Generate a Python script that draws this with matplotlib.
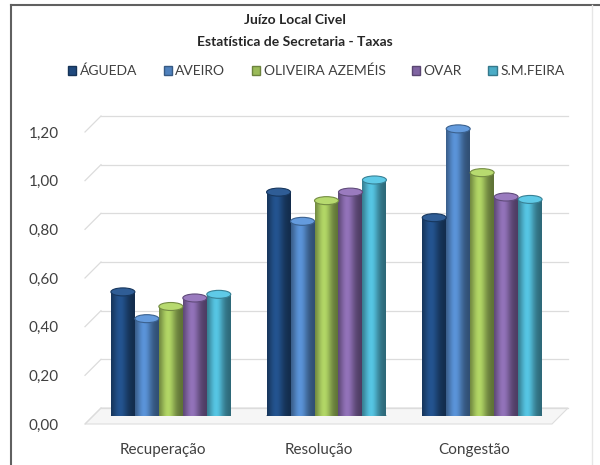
import matplotlib
matplotlib.use('Agg')
import matplotlib.pyplot as plt
import numpy as np
from matplotlib.patches import Ellipse, Patch, Polygon
from matplotlib.lines import Line2D
from matplotlib.transforms import ScaledTranslation
from matplotlib.colors import to_rgb

plt.rcParams['font.family'] = ['Lato', 'DejaVu Sans']

categories = ['Recuperação', 'Resolução', 'Congestão']
comarcas = ['ÁGUEDA', 'AVEIRO', 'OLIVEIRA AZEMÉIS', 'OVAR', 'S.M.FEIRA']
taxas = {
    'ÁGUEDA':           [0.51, 0.92, 0.815],
    'AVEIRO':           [0.40, 0.80, 1.18],
    'OLIVEIRA AZEMÉIS': [0.45, 0.885, 1.00],
    'OVAR':             [0.485, 0.92, 0.90],
    'S.M.FEIRA':        [0.50, 0.97, 0.89],
}
cores = ['#1F497D', '#4F81BD', '#9BBB59', '#8064A2', '#4BACC6']
yticks = [0.0, 0.2, 0.4, 0.6, 0.8, 1.0, 1.2]
ytick_labels = ['0,00', '0,20', '0,40', '0,60', '0,80', '1,00', '1,20']

fig = plt.figure(figsize=(6, 4.65), dpi=100)
ax = fig.add_axes([93/600, 49/465, 467/600, 292/465])
ax.set_xlim(-0.5, 2.5)
ax.set_ylim(0, 1.2)

# depth offset of the 3d box, in data units (8 px)
dx = 8 * 3 / 467
dy = 8 * 1.2 / 292

# floor
floor = Polygon([(-0.5 - dx, -dy), (2.5 - dx, -dy), (2.5 + dx, dy), (-0.5 + dx, dy)],
                closed=True, facecolor='#F6F6F6', edgecolor='#DDDDDD', lw=0.8,
                zorder=0.5, clip_on=False)
ax.add_patch(floor)

# back wall gridlines plus the slanted side wall lines
for v in yticks:
    ax.plot([-0.5 + dx, 2.5 + dx], [v + dy, v + dy], color='#DCDCDC', lw=0.9,
            zorder=0.6, clip_on=False)
    ax.plot([-0.5 - dx, -0.5 + dx], [v - dy, v + dy], color='#DCDCDC', lw=0.9,
            zorder=0.6, clip_on=False)

# cylinder shading across the bar width
t = np.linspace(0, 1, 64)
shade = 0.6 + 0.55 * np.exp(-((t - 0.38) / 0.32) ** 2)

n = len(comarcas)
w = 0.154
x = np.arange(len(categories))
cap_h = 8 * 1.2 / 292
for i, (nome, cor) in enumerate(zip(comarcas, cores)):
    pos = x + (i - (n - 1) / 2) * w
    bars = ax.bar(pos, taxas[nome], width=w, color=cor, zorder=2)
    rgb = np.array(to_rgb(cor))
    img = np.clip(rgb[None, None, :] * shade[None, :, None], 0, 1)
    for b in bars:
        x0 = b.get_x()
        h = b.get_height()
        xc = x0 + w / 2
        # rounded bottom edge
        ax.add_patch(Ellipse((xc, 0), w, cap_h, facecolor=rgb * 0.7,
                             edgecolor='none', zorder=1.9))
        im = ax.imshow(img, extent=(x0, x0 + w, 0, h), aspect='auto',
                       interpolation='bilinear', zorder=2.1)
        im.set_clip_path(b)
        # top cap
        top = np.clip(rgb * 1.1 + 0.05, 0, 1)
        ax.add_patch(Ellipse((xc, h), w, cap_h, facecolor=top,
                             edgecolor=rgb * 0.75, lw=0.8, zorder=2.2))

ax.set_xlim(-0.5, 2.5)
ax.set_ylim(0, 1.2)

for s in ax.spines.values():
    s.set_visible(False)
ax.set_yticks(yticks)
ax.set_yticklabels(ytick_labels)
ax.set_xticks(x)
ax.set_xticklabels(categories)
ax.tick_params(axis='y', length=0, pad=19, labelsize=11, labelcolor='#404040')
ax.tick_params(axis='x', length=0, pad=14, labelsize=11, labelcolor='#404040')
shift = ScaledTranslation(-0.08, -0.08, fig.dpi_scale_trans)
for lab in ax.get_yticklabels() + ax.get_xticklabels():
    lab.set_transform(lab.get_transform() + shift)

fig.text(0.492, 1 - 20/465, 'Juízo Local Civel', ha='center', va='center',
         fontsize=10, fontweight='bold', color='#262626')
fig.text(0.492, 1 - 42/465, 'Estatística de Secretaria - Taxas', ha='center',
         va='center', fontsize=10, fontweight='bold', color='#262626')

handles = [Patch(facecolor=c, edgecolor=np.array(to_rgb(c)) * 0.7) for c in cores]
fig.legend(handles, comarcas, loc='center', bbox_to_anchor=(0.527, 1 - 71/465),
           ncol=5, frameon=False, fontsize=10, handlelength=0.6, handleheight=0.6,
           handletextpad=0.25, columnspacing=1.9, labelcolor='#404040')

# outer chart frame
fig.add_artist(Line2D([11/600, 11/600], [0, 1 - 5/465], color='#606060', lw=1.5))
fig.add_artist(Line2D([11/600, 1], [1 - 5/465, 1 - 5/465], color='#606060', lw=1.5))
fig.add_artist(Line2D([592/600, 592/600], [0, 1 - 5/465], color='#E6E6E6', lw=1.0))

fig.savefig('out.png', dpi=100)
